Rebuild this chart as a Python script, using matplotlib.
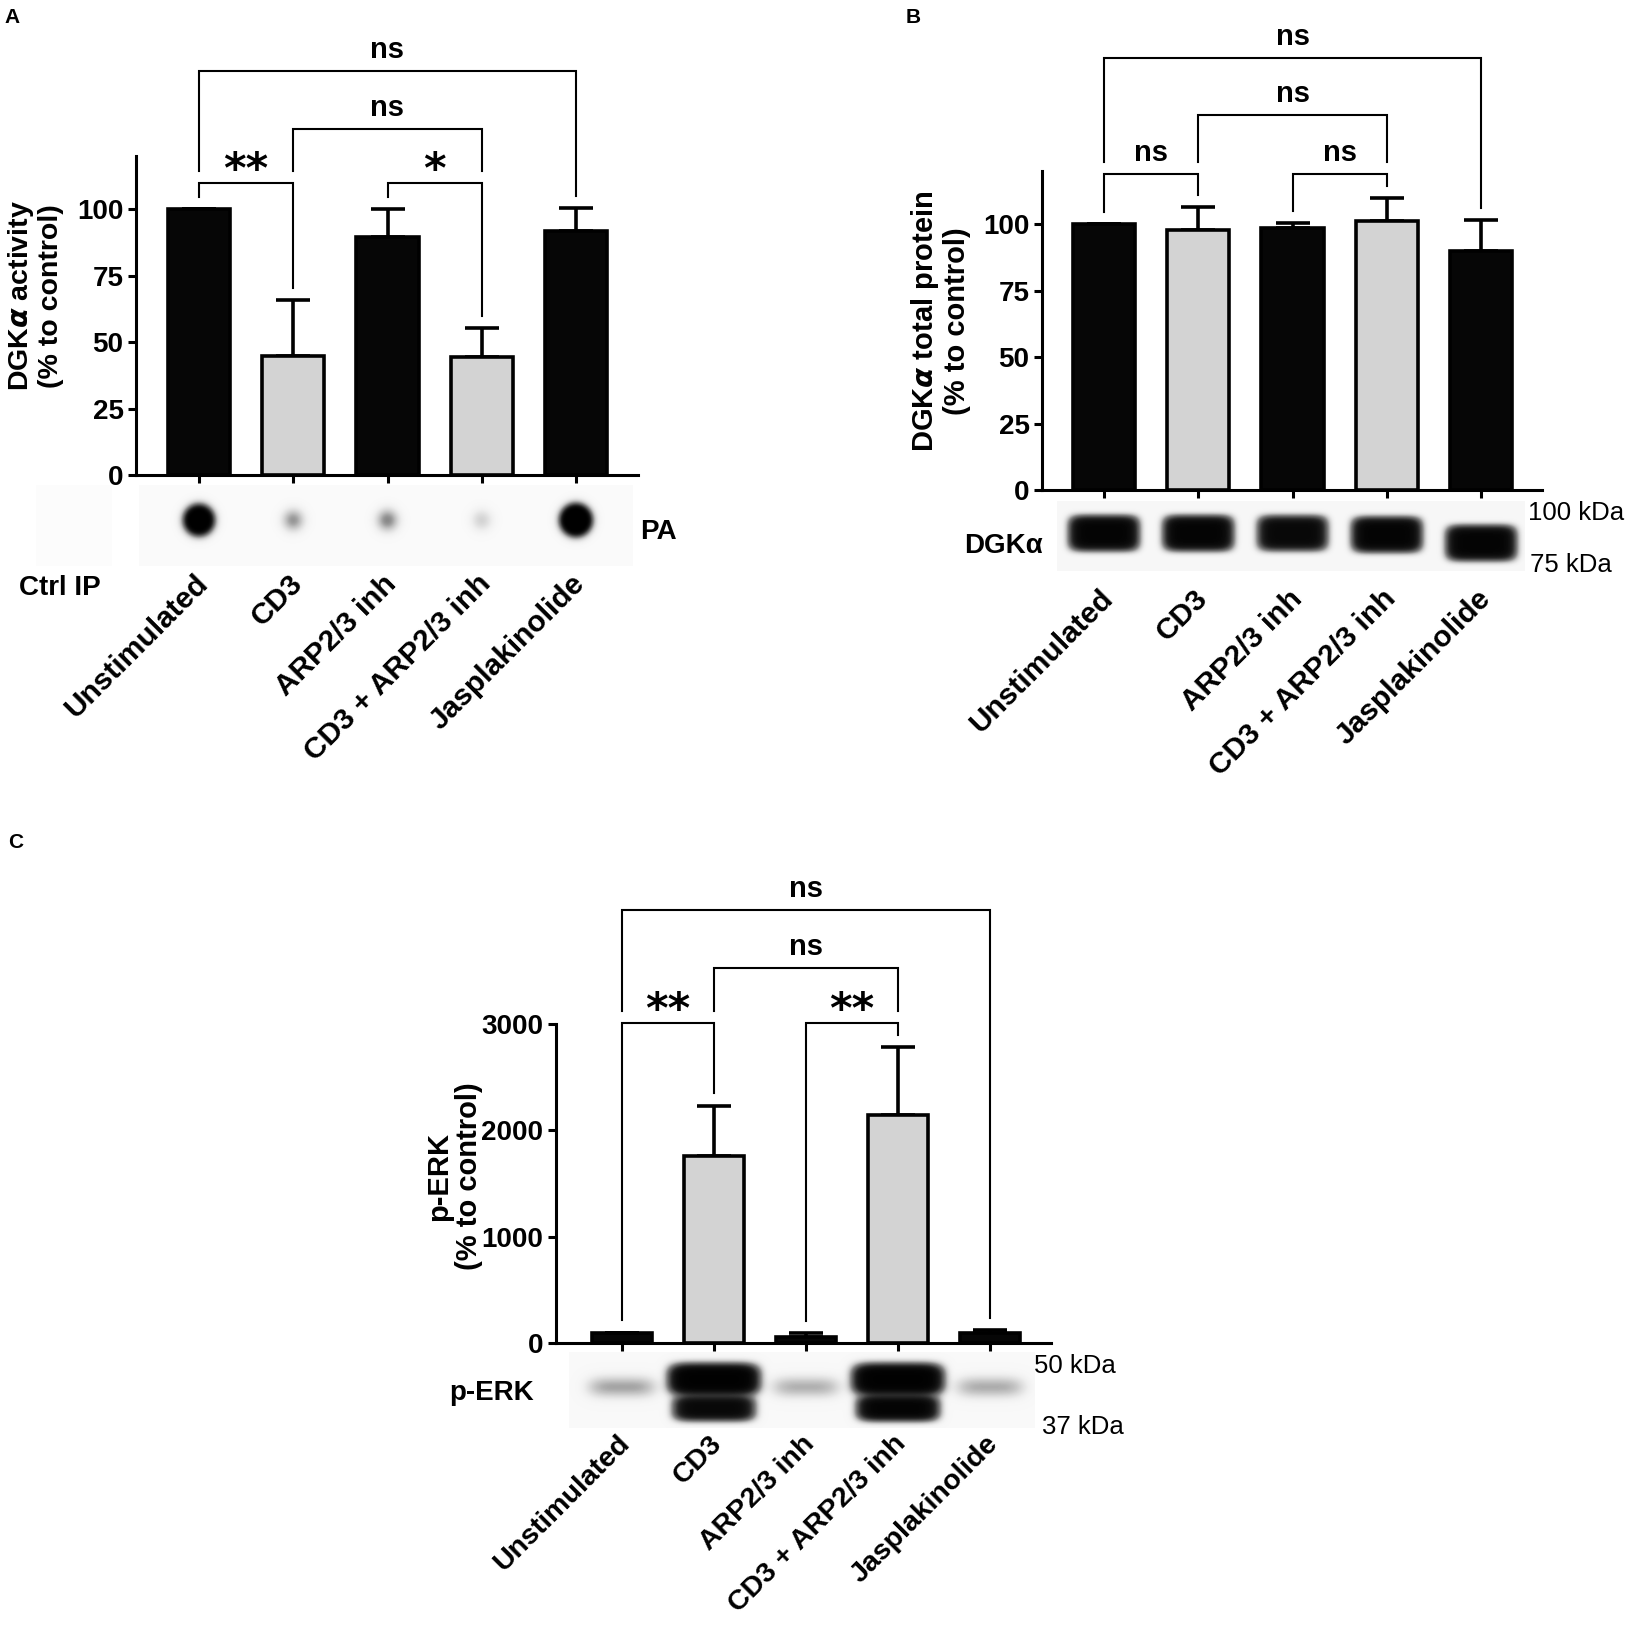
import numpy as np
import matplotlib
matplotlib.use('Agg')
import matplotlib.pyplot as plt
from matplotlib.transforms import ScaledTranslation

plt.rcParams['font.family'] = ['Liberation Sans', 'DejaVu Sans']
plt.rcParams['font.weight'] = 'bold'
plt.rcParams['mathtext.fontset'] = 'dejavusans'

# ---- data ----
groups = ['Unstimulated', 'CD3', 'ARP2/3 inh', 'CD3 + ARP2/3 inh', 'Jasplakinolide']
grey_bar = [False, True, False, True, False]

act_mean = [100, 44.7, 89.6, 44.4, 91.6]
act_err = [0, 21.2, 10.4, 10.9, 8.8]
prot_mean = [100, 97.7, 98.4, 101.2, 90.0]
prot_err = [0, 8.9, 2.2, 8.6, 11.4]
erk_mean = [97, 1755, 56, 2144, 97]
erk_err = [0, 477, 34, 640, 25]

# significance brackets: (group i, group j, label) and bracket height
act_sig = [(0, 1, '**'), (2, 3, '*'), (1, 3, 'ns'), (0, 4, 'ns')]
act_sig_y = [109.7, 109.7, 130, 152]
prot_sig = [(0, 1, 'ns'), (2, 3, 'ns'), (1, 3, 'ns'), (0, 4, 'ns')]
prot_sig_y = [118.9, 118.9, 140.9, 162.5]
erk_sig = [(0, 1, '**'), (2, 3, '**'), (1, 3, 'ns'), (0, 4, 'ns')]
erk_sig_y = [3010, 3010, 3527, 4073]

# blot signal per lane (arbitrary units, saturating)
pa_spot = [12, 0.65, 0.75, 0.28, 16]
dgk_band = [4.0, 4.0, 3.5, 4.0, 4.0]
erk_faint = [0.55, 0, 0.48, 0, 0.5]
erk_upper = [0, 5.0, 0, 5.0, 0]
erk_lower = [0, 3.5, 0, 4.0, 0]

W, H = 1627, 1628


def rect(x0, y0, x1, y1):
    return [x0 / W, 1 - y1 / H, (x1 - x0) / W, (y1 - y0) / H]


def fx(px):
    return px / W


def fy(py):
    return 1 - py / H


fig = plt.figure(figsize=(W / 100, H / 100), dpi=100)


def bar_panel(box, c0, sp, mean, err, ytop, yticks, sig, sig_y, gap, xpad=62, xsize=21.5):
    x0, y0, x1, y1 = box
    ax = fig.add_axes(rect(x0, y0, x1, y1))
    x = np.arange(len(groups))
    cols = ['#d3d3d3' if g else '#060606' for g in grey_bar]
    ax.bar(x, mean, width=0.66, color=cols, edgecolor='black', linewidth=2.6, zorder=3)
    ax.errorbar(x, mean, yerr=[np.zeros(len(err)), err], fmt='none', ecolor='black',
                elinewidth=2.6, capsize=12, capthick=2.6, zorder=2)
    ax.set_xlim((x0 - c0) / sp, (x1 - c0) / sp)
    ax.set_ylim(0, ytop)
    ax.set_yticks(yticks)
    for s in ['top', 'right']:
        ax.spines[s].set_visible(False)
    for s in ['left', 'bottom']:
        ax.spines[s].set_linewidth(2.2)
    ax.tick_params(axis='y', width=2.2, length=6, labelsize=20, pad=3)
    ax.tick_params(axis='x', width=2.2, length=6, labelsize=xsize, pad=xpad)
    ax.set_xticks(x)
    ax.set_xticklabels(groups, rotation=45, ha='right', rotation_mode='anchor')
    shift = ScaledTranslation(-5 / 100, 0, fig.dpi_scale_trans)
    for lab in ax.get_xticklabels():
        lab.set_transform(lab.get_transform() + shift)

    # brackets, legs stop just above whatever is below them
    ceil = [m + e for m, e in zip(mean, err)]
    for (i, j, lab), yb in zip(sig, sig_y):
        ax.plot([i, i, j, j], [ceil[i] + gap, yb, yb, ceil[j] + gap], color='black',
                lw=1.5, clip_on=False, solid_joinstyle='miter', zorder=4)
        for k in range(i, j + 1):
            ceil[k] = max(ceil[k], yb)
        if lab == 'ns':
            ax.annotate(lab, xy=((i + j) / 2, yb), xytext=(0, 9.4), textcoords='offset points',
                        ha='center', va='baseline', fontsize=21, annotation_clip=False)
        else:
            ax.annotate(lab, xy=((i + j) / 2, yb), xytext=(0, 0), textcoords='offset points',
                        ha='center', va='baseline', fontsize=31, family='DejaVu Sans',
                        annotation_clip=False)
    return ax


def blot(box, c0, sp, layers, bg=0.05):
    x0, y0, x1, y1 = box
    ax = fig.add_axes(rect(x0, y0, x1, y1))
    xs = (np.arange(x0, x1) + 0.5 - c0) / sp
    ys = (np.arange(y0, y1) + 0.5 - y0) / (y1 - y0)
    X, Y = np.meshgrid(xs, ys)
    sig = np.zeros_like(X)
    for amps, yc, wx, wy, px, py in layers:
        for i, a in enumerate(amps):
            yci = yc[i] if np.ndim(yc) else yc
            sig += a * np.exp(-np.abs((X - i) / wx) ** px - np.abs((Y - yci) / wy) ** py)
    dark = bg + (1 - bg) * (1 - np.exp(-sig))
    ax.imshow(dark, cmap='Greys', vmin=0, vmax=1, aspect='auto', interpolation='bilinear',
              extent=(xs[0], xs[-1], 1, 0))
    ax.set_axis_off()
    return ax


# ---- panel A ----
boxA = (136, 156, 638, 475)
bar_panel(boxA, 199, 94.25, act_mean, act_err, 120, [0, 25, 50, 75, 100],
          act_sig, act_sig_y, 4.5)
blot((139, 485, 633, 566), 199, 94.25,
     [(pa_spot, 0.44, 0.106, 0.123, 2, 2)], bg=0.04)
blot((36, 485, 112, 566), 199, 94.25, [], bg=0.02)
fig.text(fx(4), fy(17.5), 'A', fontsize=15, ha='left', va='center')
fig.text(fx(35), fy(296), 'DGK$\\alpha$ activity\n(% to control)', rotation=90,
         ha='center', va='center', fontsize=20.5, linespacing=1.1, multialignment='center')
fig.text(fx(640), fy(532), 'PA', fontsize=20, ha='left', va='center')
fig.text(fx(19), fy(588), 'Ctrl IP', fontsize=20, ha='left', va='center')

# ---- panel B ----
boxB = (1042, 171, 1542, 490)
bar_panel(boxB, 1104, 94.3, prot_mean, prot_err, 120, [0, 25, 50, 75, 100],
          prot_sig, prot_sig_y, 4.5)
blot((1057, 501, 1525, 571), 1104, 94.3,
     [(dgk_band, [0.46, 0.46, 0.46, 0.48, 0.6], 0.35, 0.23, 6, 4)], bg=0.06)
fig.text(fx(906), fy(17.5), 'B', fontsize=15, ha='left', va='center')
fig.text(fx(940), fy(321), 'DGK$\\alpha$ total protein\n(% to control)', rotation=90,
         ha='center', va='center', fontsize=21, linespacing=1.1, multialignment='center')
fig.text(fx(1043), fy(546), 'DGKα', fontsize=20, ha='right', va='center')
fig.text(fx(1528), fy(513), '100 kDa', fontsize=18.5, fontweight='normal', ha='left', va='center')
fig.text(fx(1530), fy(565), '75 kDa', fontsize=18.5, fontweight='normal', ha='left', va='center')

# ---- panel C ----
boxC = (556, 1024, 1051, 1343)
bar_panel(boxC, 622, 92, erk_mean, erk_err, 3000, [0, 1000, 2000, 3000],
          erk_sig, erk_sig_y, 115, xpad=57, xsize=20.5)
blot((569, 1352, 1035, 1428), 622, 92,
     [(erk_faint, 0.46, 0.36, 0.13, 4, 2),
      (erk_upper, 0.36, 0.46, 0.18, 6, 3),
      (erk_lower, 0.74, 0.42, 0.15, 6, 3)], bg=0.05)
fig.text(fx(8), fy(842), 'C', fontsize=15, ha='left', va='center')
fig.text(fx(454), fy(1176), 'p-ERK\n(% to control)', rotation=90,
         ha='center', va='center', fontsize=21, linespacing=1.1, multialignment='center')
fig.text(fx(534), fy(1393), 'p-ERK', fontsize=20, ha='right', va='center')
fig.text(fx(1034), fy(1366), '50 kDa', fontsize=18.5, fontweight='normal', ha='left', va='center')
fig.text(fx(1042), fy(1427), '37 kDa', fontsize=18.5, fontweight='normal', ha='left', va='center')

fig.savefig('out.png', dpi=100)
